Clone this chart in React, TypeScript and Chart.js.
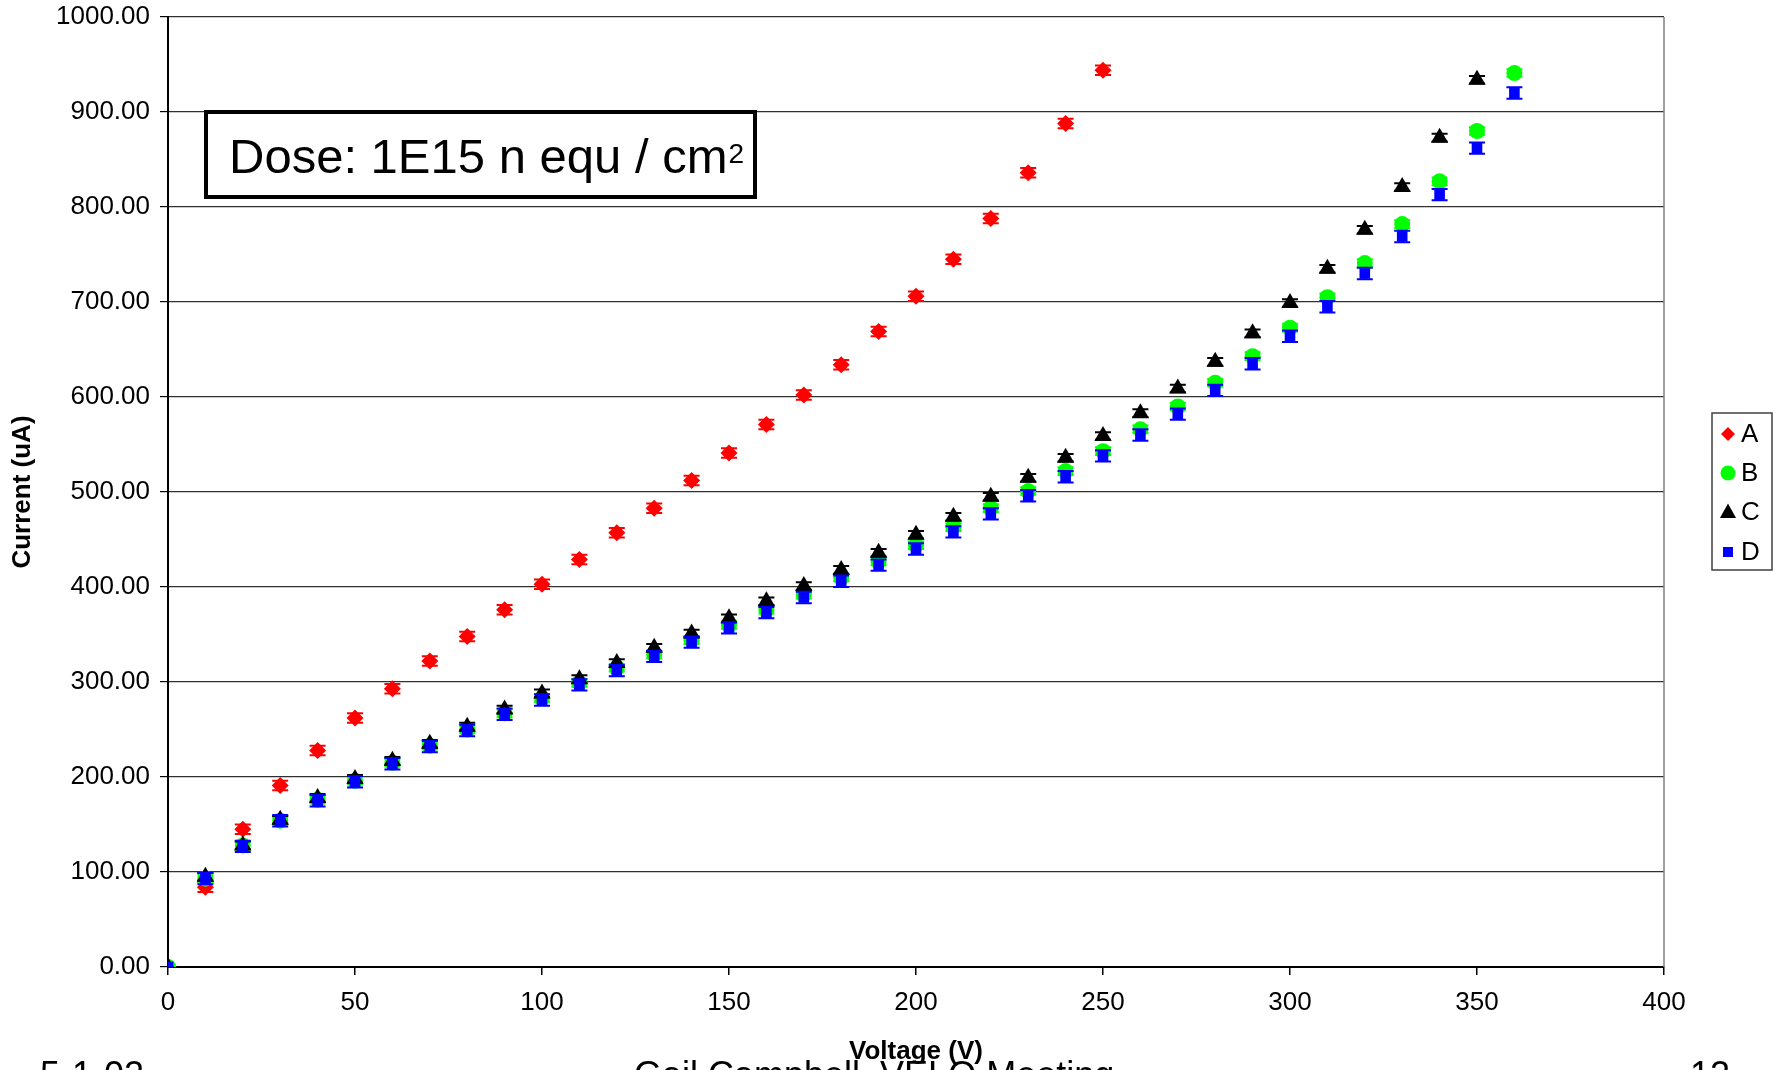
import React, { useEffect, useRef } from "react";
import { Chart, registerables } from "chart.js";

Chart.register(...registerables);

// ---- data ----
const voltages = [0, 10, 20, 30, 40, 50, 60, 70, 80, 90, 100, 110, 120, 130, 140, 150, 160, 170, 180, 190, 200, 210, 220, 230, 240, 250, 260, 270, 280, 290, 300, 310, 320, 330, 340, 350, 360];
const seriesA = [0, 84, 145, 191, 228, 262, 293, 322, 348, 376, 403, 429, 457, 483, 512, 541, 571, 602, 634, 669, 706, 745, 788, 836, 888, 944];
const seriesB = [0, 93, 128, 154, 176, 196, 215, 233, 250, 267, 283, 299, 315, 329, 344, 360, 376, 392, 410, 427, 444, 463, 483, 501, 522, 543, 566, 590, 615, 643, 673, 705, 741, 782, 827, 880, 941];
const seriesC = [0, 95, 128, 155, 178, 198, 217, 235, 253, 271, 288, 303, 320, 336, 351, 367, 385, 401, 418, 436, 455, 474, 495, 515, 536, 559, 583, 609, 637, 667, 699, 735, 776, 821, 873, 934];
const seriesD = [0, 93, 127, 154, 175, 195, 214, 232, 249, 266, 281, 297, 312, 327, 342, 357, 373, 389, 406, 423, 440, 458, 477, 496, 516, 538, 560, 582, 607, 635, 664, 695, 730, 769, 813, 862, 920];
const errorA = 5;
const errorB = 4;
const errorC = 4;
const errorD = 6;
const seriesNames = ["A", "B", "C", "D"];
const seriesColors = ["#ff0000", "#00ff00", "#000000", "#0000ff"];
const doseText = "Dose: 1E15 n equ / cm";
const doseSup = "2";
const xTitle = "Voltage (V)";
const yTitle = "Current (uA)";
const footerLeft = "5-1-02";
const footerMid = "Gail Campbell, VELO Meeting";
const footerRight = "12";

const FONT = "'Liberation Sans', Arial, sans-serif";

function toPoints(vals: number[]) {
  return vals.map((v, i) => ({ x: voltages[i], y: v }));
}

const errorBarPlugin = {
  id: "errorBars",
  afterDatasetDraw(chart: any, args: any) {
    const ds = chart.data.datasets[args.index];
    const err = ds.errorSize;
    if (!err) return;
    const ctx = chart.ctx;
    const ys = chart.scales.y;
    ctx.save();
    ctx.strokeStyle = ds.backgroundColor;
    ctx.lineWidth = 2;
    args.meta.data.forEach((el: any, i: number) => {
      const v = ds.data[i].y;
      if (v <= 0) return;
      const x = el.x;
      const y1 = ys.getPixelForValue(v + err);
      const y2 = ys.getPixelForValue(v - err);
      ctx.beginPath();
      ctx.moveTo(x, y1);
      ctx.lineTo(x, y2);
      ctx.moveTo(x - 8, y1);
      ctx.lineTo(x + 8, y1);
      ctx.moveTo(x - 8, y2);
      ctx.lineTo(x + 8, y2);
      ctx.stroke();
    });
    ctx.restore();
  },
};

function drawMarker(ctx: CanvasRenderingContext2D, style: string, x: number, y: number, r: number, color: string) {
  ctx.fillStyle = color;
  ctx.beginPath();
  if (style === "rectRot") {
    ctx.moveTo(x, y - r);
    ctx.lineTo(x + r, y);
    ctx.lineTo(x, y + r);
    ctx.lineTo(x - r, y);
    ctx.closePath();
  } else if (style === "circle") {
    ctx.arc(x, y, r, 0, Math.PI * 2);
  } else if (style === "triangle") {
    ctx.moveTo(x, y - r);
    ctx.lineTo(x + r * 0.95, y + r * 0.7);
    ctx.lineTo(x - r * 0.95, y + r * 0.7);
    ctx.closePath();
  } else {
    ctx.rect(x - r, y - r, 2 * r, 2 * r);
  }
  ctx.fill();
}

const decorPlugin = {
  id: "decor",
  beforeDraw(chart: any) {
    const ctx = chart.ctx;
    ctx.save();
    ctx.fillStyle = "#ffffff";
    ctx.fillRect(0, 0, chart.width, chart.height);
    ctx.fillStyle = "#000";
    ctx.font = `36px ${FONT}`;
    ctx.textBaseline = "alphabetic";
    ctx.textAlign = "left";
    ctx.fillText(footerLeft, 40, 1087);
    ctx.fillText(footerMid, 634, 1087);
    ctx.fillText(footerRight, 1690, 1087);
    ctx.restore();
  },
  beforeDatasetsDraw(chart: any) {
    const ctx = chart.ctx;
    const a = chart.chartArea;
    ctx.save();
    ctx.strokeStyle = "#808080";
    ctx.lineWidth = 1.5;
    ctx.beginPath();
    ctx.moveTo(a.right, a.top);
    ctx.lineTo(a.right, a.bottom);
    ctx.stroke();
    // dose box
    ctx.fillStyle = "#ffffff";
    ctx.fillRect(206, 112, 549, 85);
    ctx.strokeStyle = "#000";
    ctx.lineWidth = 4;
    ctx.strokeRect(206, 112, 549, 85);
    ctx.fillStyle = "#000";
    ctx.font = `49px ${FONT}`;
    ctx.textBaseline = "alphabetic";
    ctx.textAlign = "left";
    ctx.fillText(doseText, 229, 173);
    const w = ctx.measureText(doseText).width;
    ctx.font = `28px ${FONT}`;
    ctx.fillText(doseSup, 229 + w + 1, 163);
    ctx.restore();
  },
  afterDraw(chart: any) {
    const ctx = chart.ctx;
    ctx.save();
    // legend
    const lx = 1712, ly = 413, lw = 60, lh = 157;
    ctx.fillStyle = "#fff";
    ctx.fillRect(lx, ly, lw, lh);
    ctx.strokeStyle = "#404040";
    ctx.lineWidth = 1.5;
    ctx.strokeRect(lx, ly, lw, lh);
    const styles = ["rectRot", "circle", "triangle", "rect"];
    const radii = [7, 7.5, 8.5, 5];
    const rows = [434, 473, 512, 552];
    ctx.font = `26px ${FONT}`;
    ctx.textBaseline = "middle";
    ctx.textAlign = "left";
    for (let i = 0; i < 4; i++) {
      drawMarker(ctx, styles[i], 1728, rows[i], radii[i], seriesColors[i]);
      ctx.fillStyle = "#000";
      ctx.fillText(seriesNames[i], 1741, rows[i] + 1);
    }
    ctx.restore();
  },
};

export default function App() {
  const ref = useRef<HTMLCanvasElement | null>(null);
  useEffect(() => {
    if (!ref.current) return;
    const chart = new Chart(ref.current, {
      type: "scatter",
      data: {
        datasets: [
          { label: "A", data: toPoints(seriesA), pointStyle: "rectRot", pointRadius: 8.5, backgroundColor: seriesColors[0], borderColor: seriesColors[0], borderWidth: 0, order: 4, errorSize: errorA } as any,
          { label: "B", data: toPoints(seriesB), pointStyle: "circle", pointRadius: 8, backgroundColor: seriesColors[1], borderColor: seriesColors[1], borderWidth: 0, order: 3, errorSize: errorB } as any,
          { label: "C", data: toPoints(seriesC), pointStyle: "triangle", pointRadius: 10, backgroundColor: seriesColors[2], borderColor: seriesColors[2], borderWidth: 0, order: 2, errorSize: errorC } as any,
          { label: "D", data: toPoints(seriesD), pointStyle: "rect", pointRadius: 7.5, backgroundColor: seriesColors[3], borderColor: seriesColors[3], borderWidth: 0, order: 1, errorSize: errorD } as any,
        ],
      },
      options: {
        responsive: false,
        animation: false,
        devicePixelRatio: 1,
        layout: { padding: { left: 0, top: 17, right: 117, bottom: 0 } },
        plugins: { legend: { display: false }, tooltip: { enabled: false } },
        scales: {
          x: {
            type: "linear",
            min: 0,
            max: 400,
            afterFit: (s: any) => { s.height = 103; s.paddingLeft = 0; s.paddingRight = 0; },
            ticks: { stepSize: 50, color: "#000", padding: 12, font: { family: FONT, size: 26 } },
            grid: { drawOnChartArea: false, drawTicks: true, tickLength: 8, tickColor: "#000", lineWidth: 1.5 },
            border: { color: "#000", width: 2 },
            title: { display: true, text: xTitle, color: "#000", font: { family: FONT, size: 26, weight: "bold" }, padding: { top: 0, bottom: 3 } },
          },
          y: {
            type: "linear",
            min: 0,
            max: 1000,
            afterFit: (s: any) => { s.width = 168; s.paddingTop = 0; s.paddingBottom = 0; },
            ticks: { stepSize: 100, color: "#000", padding: 10, font: { family: FONT, size: 26 }, callback: (v: any) => Number(v).toFixed(2) },
            grid: { color: "#303030", lineWidth: 1.2, drawTicks: true, tickLength: 8, tickColor: "#000" },
            border: { color: "#000", width: 2 },
            title: { display: true, text: yTitle, color: "#000", font: { family: FONT, size: 26, weight: "bold" }, padding: { top: 7, bottom: 0 } },
          },
        },
      } as any,
      plugins: [decorPlugin, errorBarPlugin],
    });
    return () => chart.destroy();
  }, []);
  return (
    <div style={{ position: "fixed", left: 0, top: 0, width: 1781, height: 1070, overflow: "hidden", background: "#fff" }}>
      <canvas ref={ref} width={1781} height={1070} style={{ display: "block", width: 1781, height: 1070 }} />
    </div>
  );
}
